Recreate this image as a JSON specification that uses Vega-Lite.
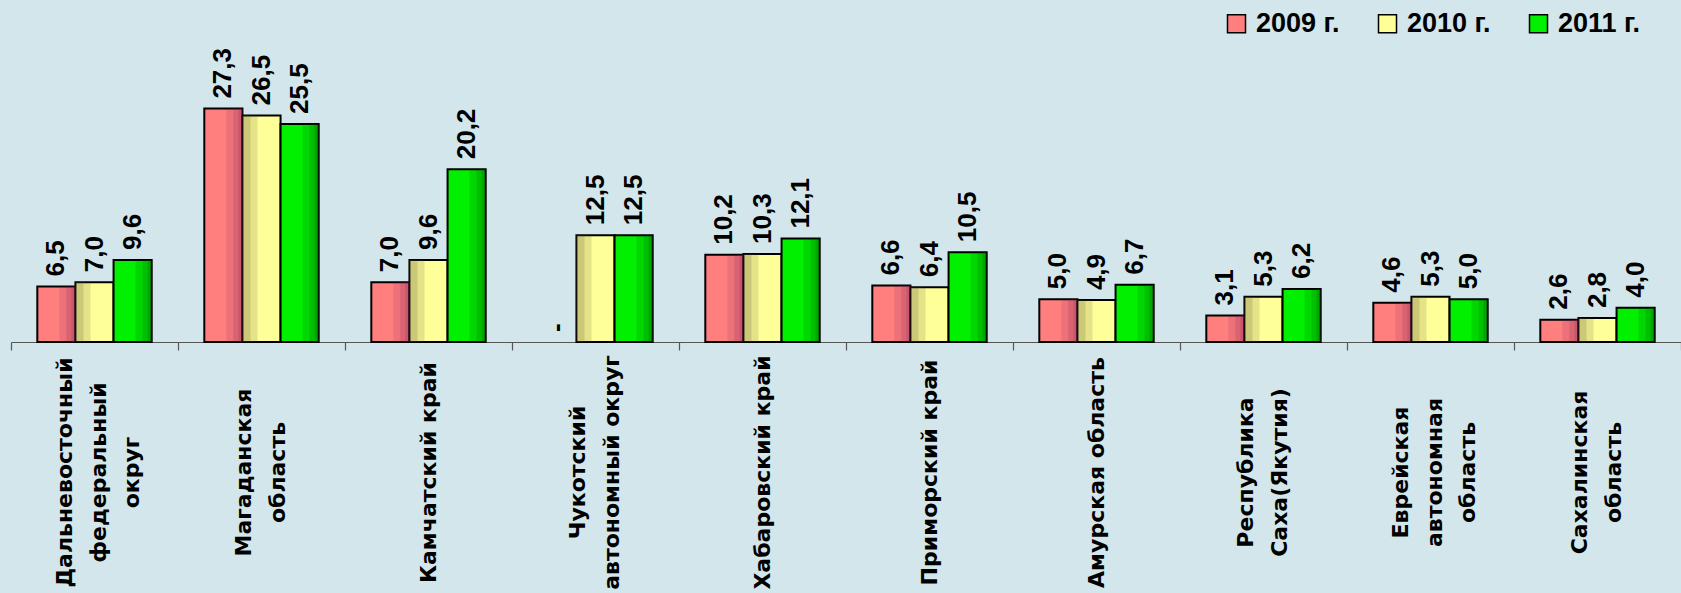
{
  "$schema": "https://vega.github.io/schema/vega-lite/v6.json",
  "width": 1670,
  "height": 342,
  "autosize": {"type": "none"},
  "padding": {"left": 11, "top": 0, "right": 0, "bottom": 251},
  "background": "#D2E6EB",
  "config": {"view": {"stroke": null}, "font": "Liberation Sans"},
  "data": {"values": [
    {"region": "Дальневосточный\nфедеральный\nокруг", "year": "2009 г.", "value": 6.5, "label": "6,5"},
    {"region": "Дальневосточный\nфедеральный\nокруг", "year": "2010 г.", "value": 7.0, "label": "7,0"},
    {"region": "Дальневосточный\nфедеральный\nокруг", "year": "2011 г.", "value": 9.6, "label": "9,6"},
    {"region": "Магаданская\nобласть", "year": "2009 г.", "value": 27.3, "label": "27,3"},
    {"region": "Магаданская\nобласть", "year": "2010 г.", "value": 26.5, "label": "26,5"},
    {"region": "Магаданская\nобласть", "year": "2011 г.", "value": 25.5, "label": "25,5"},
    {"region": "Камчатский край", "year": "2009 г.", "value": 7.0, "label": "7,0"},
    {"region": "Камчатский край", "year": "2010 г.", "value": 9.6, "label": "9,6"},
    {"region": "Камчатский край", "year": "2011 г.", "value": 20.2, "label": "20,2"},
    {"region": "Чукотский\nавтономный округ", "year": "2009 г.", "value": 0, "label": "-"},
    {"region": "Чукотский\nавтономный округ", "year": "2010 г.", "value": 12.5, "label": "12,5"},
    {"region": "Чукотский\nавтономный округ", "year": "2011 г.", "value": 12.5, "label": "12,5"},
    {"region": "Хабаровский край", "year": "2009 г.", "value": 10.2, "label": "10,2"},
    {"region": "Хабаровский край", "year": "2010 г.", "value": 10.3, "label": "10,3"},
    {"region": "Хабаровский край", "year": "2011 г.", "value": 12.1, "label": "12,1"},
    {"region": "Приморский край", "year": "2009 г.", "value": 6.6, "label": "6,6"},
    {"region": "Приморский край", "year": "2010 г.", "value": 6.4, "label": "6,4"},
    {"region": "Приморский край", "year": "2011 г.", "value": 10.5, "label": "10,5"},
    {"region": "Амурская область", "year": "2009 г.", "value": 5.0, "label": "5,0"},
    {"region": "Амурская область", "year": "2010 г.", "value": 4.9, "label": "4,9"},
    {"region": "Амурская область", "year": "2011 г.", "value": 6.7, "label": "6,7"},
    {"region": "Республика\nСаха(Якутия)", "year": "2009 г.", "value": 3.1, "label": "3,1"},
    {"region": "Республика\nСаха(Якутия)", "year": "2010 г.", "value": 5.3, "label": "5,3"},
    {"region": "Республика\nСаха(Якутия)", "year": "2011 г.", "value": 6.2, "label": "6,2"},
    {"region": "Еврейская\nавтономная\nобласть", "year": "2009 г.", "value": 4.6, "label": "4,6"},
    {"region": "Еврейская\nавтономная\nобласть", "year": "2010 г.", "value": 5.3, "label": "5,3"},
    {"region": "Еврейская\nавтономная\nобласть", "year": "2011 г.", "value": 5.0, "label": "5,0"},
    {"region": "Сахалинская\nобласть", "year": "2009 г.", "value": 2.6, "label": "2,6"},
    {"region": "Сахалинская\nобласть", "year": "2010 г.", "value": 2.8, "label": "2,8"},
    {"region": "Сахалинская\nобласть", "year": "2011 г.", "value": 4.0, "label": "4,0"}
  ]},
  "encoding": {
    "x": {
      "field": "region", "type": "nominal", "sort": null,
      "scale": {"paddingInner": 0, "paddingOuter": 0},
      "axis": {
        "title": null, "labelAngle": -90, "labelAlign": "center", "labelBaseline": "middle",
        "labelPadding": 122,
        "labelOffset": {"condition": [
          {"test": "length(split(datum.value, '\\n')) == 3", "value": -30},
          {"test": "length(split(datum.value, '\\n')) == 2", "value": -18}
        ], "value": 0},
        "labelExpr": "split(datum.label, '\\n')",
        "labelFont": "DejaVu Sans", "labelFontSize": 22, "labelFontWeight": "bold", "labelColor": "black",
        "labelLineHeight": 33.5, "labelLimit": 600, "labelOverlap": false,
        "tickBand": "extent", "tickSize": 8, "tickColor": "#555555", "tickWidth": 1.2,
        "domainColor": "#555555", "domainWidth": 1.2
      }
    },
    "y": {"field": "value", "type": "quantitative", "stack": null, "scale": {"domain": [0, 40], "nice": false}, "axis": null}
  },
  "layer": [
    {
      "transform": [{"filter": "datum.value > 0"}],
      "mark": {"type": "bar", "stroke": "black", "strokeWidth": 2},
      "encoding": {
        "xOffset": {"field": "year", "type": "nominal", "scale": {"domain": ["2009 г.", "2010 г.", "2011 г."], "paddingInner": 0, "paddingOuter": 0.69}},
        "color": {
          "field": "year", "type": "nominal",
          "scale": {"domain": ["2009 г.", "2010 г.", "2011 г."], "range": ["#FF7F7F", "#FFFF99", "#00F000"]},
          "legend": {
            "title": null, "orient": "none", "legendX": 1212, "legendY": 10, "direction": "horizontal",
            "symbolType": "square", "symbolSize": 324, "symbolStrokeColor": "black", "symbolStrokeWidth": 1.5,
            "symbolOpacity": 1, "labelFont": "Liberation Sans", "labelFontSize": 27, "labelFontWeight": "bold",
            "labelColor": "black", "labelOffset": 6, "columnPadding": 34, "padding": 0
          }
        }
      }
    },
    {
      "transform": [{"filter": "datum.value > 0 && datum.year !== '2010 г.'"}],
      "mark": {"type": "bar", "width": 16, "opacity": 0.14,
        "xOffset": {"expr": "(datum.year === '2009 г.' ? -38.13 : 38.13) + 11"}},
      "encoding": {"color": {"condition": {"test": "datum.year === '2009 г.'", "value": "#7A1F55"}, "value": "#004000"}}
    },
    {
      "transform": [{"filter": "datum.value > 0 && datum.year !== '2010 г.'"}],
      "mark": {"type": "bar", "width": 9, "opacity": 0.16,
        "xOffset": {"expr": "(datum.year === '2009 г.' ? -38.13 : 38.13) + 14.5"}},
      "encoding": {"color": {"condition": {"test": "datum.year === '2009 г.'", "value": "#7A1F55"}, "value": "#004000"}}
    },
    {
      "transform": [{"filter": "datum.value > 0 && datum.year !== '2010 г.'"}],
      "mark": {"type": "bar", "width": 4, "opacity": 0.18,
        "xOffset": {"expr": "(datum.year === '2009 г.' ? -38.13 : 38.13) + 17"}},
      "encoding": {"color": {"condition": {"test": "datum.year === '2009 г.'", "value": "#7A1F55"}, "value": "#004000"}}
    },
    {
      "transform": [{"filter": "datum.value > 0 && datum.year === '2010 г.'"}],
      "mark": {"type": "bar", "width": 15, "opacity": 0.16, "color": "#5A5030", "xOffset": -11.5}
    },
    {
      "transform": [{"filter": "datum.value > 0 && datum.year === '2010 г.'"}],
      "mark": {"type": "bar", "width": 8, "opacity": 0.18, "color": "#5A5030", "xOffset": -15}
    },
    {
      "mark": {"type": "text", "angle": 270, "align": "left", "baseline": "middle", "dx": 10,
        "font": "Liberation Sans", "fontSize": 26, "fontWeight": "bold", "color": "black"},
      "encoding": {
        "xOffset": {"field": "year", "type": "nominal", "scale": {"domain": ["2009 г.", "2010 г.", "2011 г."], "paddingInner": 0, "paddingOuter": 0.69}},
        "text": {"field": "label"}
      }
    }
  ]
}
